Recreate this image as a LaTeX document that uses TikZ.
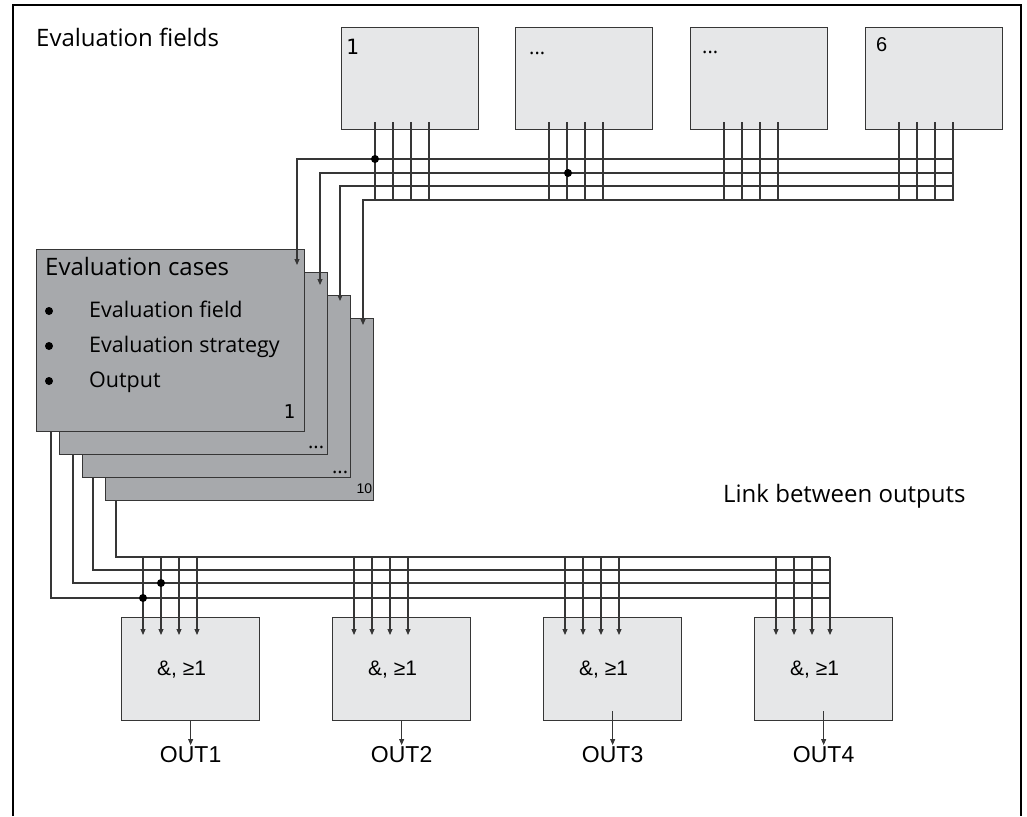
\documentclass[tikz,border=0pt]{standalone}
\usepackage{fontspec}
\setmainfont{Open Sans}
\setmonofont{DejaVu Sans Mono}
\newfontfamily\gatefont{Liberation Sans}
\usetikzlibrary{arrows.meta}

\definecolor{boxgray}{HTML}{E6E7E8}
\definecolor{cardgray}{HTML}{A7A9AC}
\definecolor{wiregray}{HTML}{363636}

\tikzset{
    field/.style={draw=wiregray, fill=boxgray, line width=1.3pt, inner sep=0pt,
        minimum width=137pt, minimum height=102pt, anchor=north west},
    card/.style={draw=wiregray, fill=cardgray, line width=1.3pt, inner sep=0pt,
        minimum width=268pt, minimum height=182pt, anchor=north west},
    gate/.style={draw=wiregray, fill=boxgray, line width=1.3pt, inner sep=0pt,
        minimum width=138pt, minimum height=103pt, anchor=north west},
    wire/.style={draw=wiregray, line width=1.1pt},
    feed/.style={-{Triangle[length=6pt,width=5pt]}},
    joint/.style={circle, fill=black, inner sep=0pt, minimum size=8pt},
    bigtext/.style={inner sep=0pt, font=\fontsize{24}{28}\selectfont},
    itemtext/.style={inner sep=0pt, anchor=base west, font=\fontsize{21.5}{26}\selectfont},
    smalltext/.style={inner sep=0pt, font=\fontsize{20}{24}\selectfont},
}

\begin{document}
\begin{tikzpicture}[x=1pt, y=-1pt]
    \useasboundingbox (0,0) rectangle (1027,816);

    % frame (open at the bottom)
    \draw[line width=2.5pt] (13,816) -- (13,5) -- (1021,5) -- (1021,816);

    \node[bigtext, anchor=base west] (fieldtitle) at (36,47) {Evaluation fields};
    \node[bigtext, anchor=base west] (linktitle) at (723,502) {Link between outputs};

    % evaluation fields
    \foreach \i/\x in {1/341, 2/515, 3/690, 4/865}
        \node[field] (f\i) at (\x,27) {};
    \node[anchor=base west, inner sep=0pt, font=\ttfamily\fontsize{21}{24}\selectfont]
        (fnum1) at ([xshift=5pt, yshift=-28pt]f1.north west) {1};
    \node[smalltext, anchor=base west] (fnum2) at ([xshift=14pt, yshift=-28pt]f2.north west) {...};
    \node[smalltext, anchor=base west] (fnum3) at ([xshift=12pt, yshift=-27pt]f3.north west) {...};
    \node[smalltext, anchor=base west, font=\gatefont\fontsize{20}{24}\selectfont]
        (fnum4) at ([xshift=11pt, yshift=-25pt]f4.north west) {6};

    % field outputs down to the bus
    \foreach \i in {1,...,4}
        \foreach \j in {0,...,3}
            \draw[wire] ([xshift={(34+18*\j)*1pt}, yshift=8pt]f\i.south west) -- ++(0,79);

    % evaluation cases, back to front
    \foreach \i in {4,3,2,1}
        \node[card] (c\i) at ({36+23*(\i-1)}, {249+23*(\i-1)}) {};

    \node[bigtext, anchor=base west] (casetitle) at ([xshift=9pt, yshift=-26pt]c1.north west) {Evaluation cases};
    \foreach \k/\txt in {0/Evaluation field, 1/Evaluation strategy, 2/Output} {
        \node[circle, fill=black, inner sep=0pt, minimum size=8pt] (bul\k) at (49,{311+35*\k}) {};
        \node[itemtext] (item\k) at (89,{317+35*\k}) {\txt};
    }
    \node[anchor=base east, inner sep=0pt, font=\ttfamily\fontsize{19}{22}\selectfont]
        (cnum1) at ([xshift=-10pt, yshift=14pt]c1.south east) {1};
    \node[smalltext, anchor=base east] (cnum2) at ([xshift=-4pt, yshift=7pt]c2.south east) {...};
    \node[smalltext, anchor=base east] (cnum3) at ([xshift=-3pt, yshift=5pt]c3.south east) {...};
    \node[anchor=base east, inner sep=0pt, font=\gatefont\fontsize{14}{16}\selectfont]
        (cnum4) at ([xshift=-2pt, yshift=8pt]c4.south east) {10};

    % bus from the fields into the cases
    \foreach \y/\x/\t in {159/297/265, 173/320/285, 186/340/301, 200/363/325}
        \draw[wire, feed] (953,\y) -| (\x,\t);
    \node[joint] (j1) at (375,159) {};
    \node[joint] (j2) at (568,173) {};

    % output gates
    \foreach \i/\x in {1/121, 2/332, 3/543, 4/754} {
        \node[gate] (g\i) at (\x,617) {};
        \node[anchor=base west, inner sep=0pt, font=\gatefont\fontsize{21}{24}\selectfont]
            (op\i) at ([xshift=36pt, yshift=-58pt]g\i.north west) {\&, ≥1};
        \node[anchor=base, inner sep=1pt, font=\gatefont\fontsize{23}{26}\selectfont]
            (out\i) at ([yshift=-41pt]g\i.south) {OUT\i};
    }

    % bus from the cases into the gates
    \foreach \x/\b/\y in {51/431/598, 73/454/583, 93/477/570, 116/500/557}
        \draw[wire] (\x,\b) |- (830,\y);
    \foreach \i in {1,...,4}
        \foreach \j in {0,...,3}
            \draw[wire, feed] ([xshift={(22+18*\j)*1pt}]g\i.north west) ++(0,-60) -- ++(0,78);
    \node[joint] (j3) at (143,598) {};
    \node[joint] (j4) at (161,583) {};

    % gate outputs
    \draw[wire, feed, line width=0.8pt] (g1.south) -- (out1.north);
    \draw[wire, feed, line width=0.8pt] (g2.south) -- (out2.north);
    \draw[wire, feed, line width=0.8pt] ([yshift=10pt]g3.south) -- (out3.north);
    \draw[wire, feed, line width=0.8pt] ([yshift=10pt]g4.south) -- (out4.north);

\end{tikzpicture}
\end{document}
